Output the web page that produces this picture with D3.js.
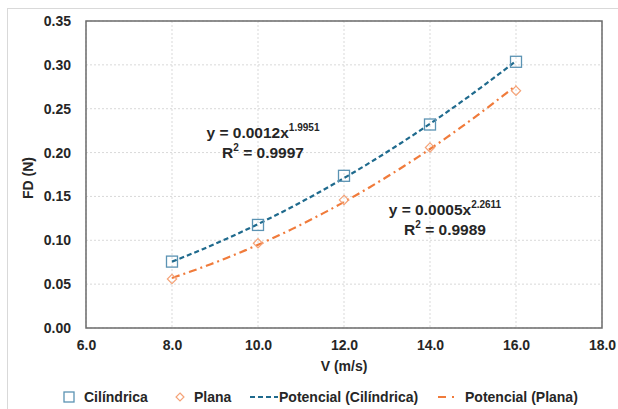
<!DOCTYPE html>
<html>
<head>
<meta charset="utf-8">
<script src="https://cdn.jsdelivr.net/npm/d3@7"></script>
<style>
  body { margin: 0; background: #fff; }
  text { font-family: "Liberation Sans", Arial, sans-serif; font-weight: bold; fill: #262626; }
</style>
</head>
<body>
<div id="chart"></div>
<script>
// data
var velocities = [8, 10, 12, 14, 16];
var cilindrica = [0.0757, 0.1175, 0.1735, 0.2320, 0.3035];
var plana = [0.0559, 0.0966, 0.1460, 0.2058, 0.2705];
var xTicks = [6, 8, 10, 12, 14, 16, 18];
var yTicks = [0, 0.05, 0.10, 0.15, 0.20, 0.25, 0.30, 0.35];

var W = 618, H = 409;
var margin = {top: 21, right: 16, bottom: 81, left: 86},
    width = W - margin.left - margin.right,
    height = H - margin.top - margin.bottom;

var svgRoot = d3.select("#chart").append("svg")
    .attr("width", W).attr("height", H);

// outer chart frame
svgRoot.append("rect")
    .attr("x", 7.5).attr("y", 8.5)
    .attr("width", W).attr("height", H)
    .attr("fill", "none").attr("stroke", "#d9d9d9");

var svg = svgRoot.append("g")
    .attr("transform", "translate(" + margin.left + "," + margin.top + ")");

var x = d3.scaleLinear().domain([6, 18]).range([0, width]);
var y = d3.scaleLinear().domain([0, 0.35]).range([height, 0]);

// gridlines
svg.append("g").selectAll("line.gx")
    .data(xTicks).enter().append("line")
    .attr("x1", d => x(d)).attr("x2", d => x(d))
    .attr("y1", 0).attr("y2", height)
    .attr("stroke", "#d9d9d9").attr("stroke-dasharray", "2,2");
svg.append("g").selectAll("line.gy")
    .data(yTicks).enter().append("line")
    .attr("y1", d => y(d)).attr("y2", d => y(d))
    .attr("x1", 0).attr("x2", width)
    .attr("stroke", "#d9d9d9").attr("stroke-dasharray", "2,2");

// axes (labels only)
var xAxis = svg.append("g")
    .attr("transform", "translate(0," + height + ")")
    .call(d3.axisBottom(x).tickValues(xTicks).tickFormat(d3.format(".1f")).tickSize(0).tickPadding(12));
xAxis.select(".domain").remove();
xAxis.selectAll("text").style("font-size", "14px").attr("fill", "#262626");

var yAxis = svg.append("g")
    .call(d3.axisLeft(y).tickValues(yTicks).tickFormat(d3.format(".2f")).tickSize(0).tickPadding(15));
yAxis.select(".domain").remove();
yAxis.selectAll("text").style("font-size", "14px").attr("fill", "#262626");

// plot border
svg.append("rect")
    .attr("width", width).attr("height", height)
    .attr("fill", "none").attr("stroke", "#6b6b6b").attr("stroke-width", 1.5);

// axis titles
svg.append("text")
    .attr("x", width / 2).attr("y", height + 43)
    .style("text-anchor", "middle").style("font-size", "14px")
    .text("V (m/s)");
svg.append("text")
    .attr("transform", "rotate(-90)")
    .attr("x", -157).attr("y", -53)
    .style("text-anchor", "middle").style("font-size", "14px")
    .text("FD (N)");

// power law fit, like a spreadsheet trendline
function powerFit(xs, ys) {
  var n = xs.length, sx = 0, sy = 0, sxx = 0, sxy = 0;
  for (var i = 0; i < n; i++) {
    var lx = Math.log(xs[i]), ly = Math.log(ys[i]);
    sx += lx; sy += ly; sxx += lx * lx; sxy += lx * ly;
  }
  var b = (n * sxy - sx * sy) / (n * sxx - sx * sx);
  var a = Math.exp((sy - b * sx) / n);
  return function(v) { return a * Math.pow(v, b); };
}

var line = d3.line().x(d => x(d[0])).y(d => y(d[1])).curve(d3.curveMonotoneX);
var xs = d3.range(8, 16.01, 0.1);

var fitC = powerFit(velocities, cilindrica);
var fitP = powerFit(velocities, plana);

svg.append("path")
    .datum(xs.map(v => [v, fitC(v)]))
    .attr("d", line).attr("fill", "none")
    .attr("stroke", "#1f6a8d").attr("stroke-width", 2.2)
    .attr("stroke-dasharray", "5,3");
svg.append("path")
    .datum(xs.map(v => [v, fitP(v)]))
    .attr("d", line).attr("fill", "none")
    .attr("stroke", "#f07b3b").attr("stroke-width", 2.2)
    .attr("stroke-dasharray", "8,4,2,4");

// markers
svg.selectAll("rect.cil")
    .data(velocities).enter().append("rect")
    .attr("class", "cil")
    .attr("x", d => x(d) - 5.5)
    .attr("y", (d, i) => y(cilindrica[i]) - 5.5)
    .attr("width", 11).attr("height", 11)
    .attr("fill", "none").attr("stroke", "#5b93b3").attr("stroke-width", 1.3);

var diamond = d3.symbol().type(d3.symbolDiamond2).size(55);
svg.selectAll("path.pla")
    .data(velocities).enter().append("path")
    .attr("class", "pla")
    .attr("d", diamond)
    .attr("transform", (d, i) => "translate(" + x(d) + "," + y(plana[i]) + ")")
    .attr("fill", "none").attr("stroke", "#f5a378").attr("stroke-width", 1.2);

// equation labels
function eqLabel(cx, cy, coef, expo, r2) {
  var t = svg.append("text").attr("x", cx).attr("y", cy)
      .style("text-anchor", "middle").style("font-size", "15.5px");
  t.append("tspan").text("y = " + coef + "x");
  t.append("tspan").attr("dy", -7).style("font-size", "10px").text(expo);
  var t2 = svg.append("text").attr("x", cx).attr("y", cy + 20)
      .style("text-anchor", "middle").style("font-size", "15.5px");
  t2.append("tspan").text("R");
  t2.append("tspan").attr("dy", -7).style("font-size", "10px").text("2");
  t2.append("tspan").attr("dy", 7).text(" = " + r2);
}
eqLabel(263 - margin.left, 138 - margin.top, "0.0012", "1.9951", "0.9997");
eqLabel(445 - margin.left, 215 - margin.top, "0.0005", "2.2611", "0.9989");

// legend
var lg = svgRoot.append("g").attr("transform", "translate(0,397)");
lg.append("rect").attr("x", 64).attr("y", -5).attr("width", 10).attr("height", 10)
    .attr("fill", "none").attr("stroke", "#5b93b3").attr("stroke-width", 1.3);
lg.append("text").attr("x", 84).attr("y", 5).style("font-size", "14px").text("Cilíndrica");
lg.append("path").attr("d", d3.symbol().type(d3.symbolDiamond2).size(40))
    .attr("transform", "translate(180,0)")
    .attr("fill", "none").attr("stroke", "#f5a378").attr("stroke-width", 1.2);
lg.append("text").attr("x", 194).attr("y", 5).style("font-size", "14px").text("Plana");
lg.append("line").attr("x1", 250).attr("x2", 278).attr("y1", 0).attr("y2", 0)
    .attr("stroke", "#1f6a8d").attr("stroke-width", 2.2).attr("stroke-dasharray", "5,3");
lg.append("text").attr("x", 279).attr("y", 5).style("font-size", "14px").text("Potencial (Cilíndrica)");
lg.append("line").attr("x1", 438).attr("x2", 458).attr("y1", 0).attr("y2", 0)
    .attr("stroke", "#f07b3b").attr("stroke-width", 2.2).attr("stroke-dasharray", "8,6,2,4");
lg.append("text").attr("x", 465).attr("y", 5).style("font-size", "14px").text("Potencial (Plana)");
</script>
</body>
</html>
